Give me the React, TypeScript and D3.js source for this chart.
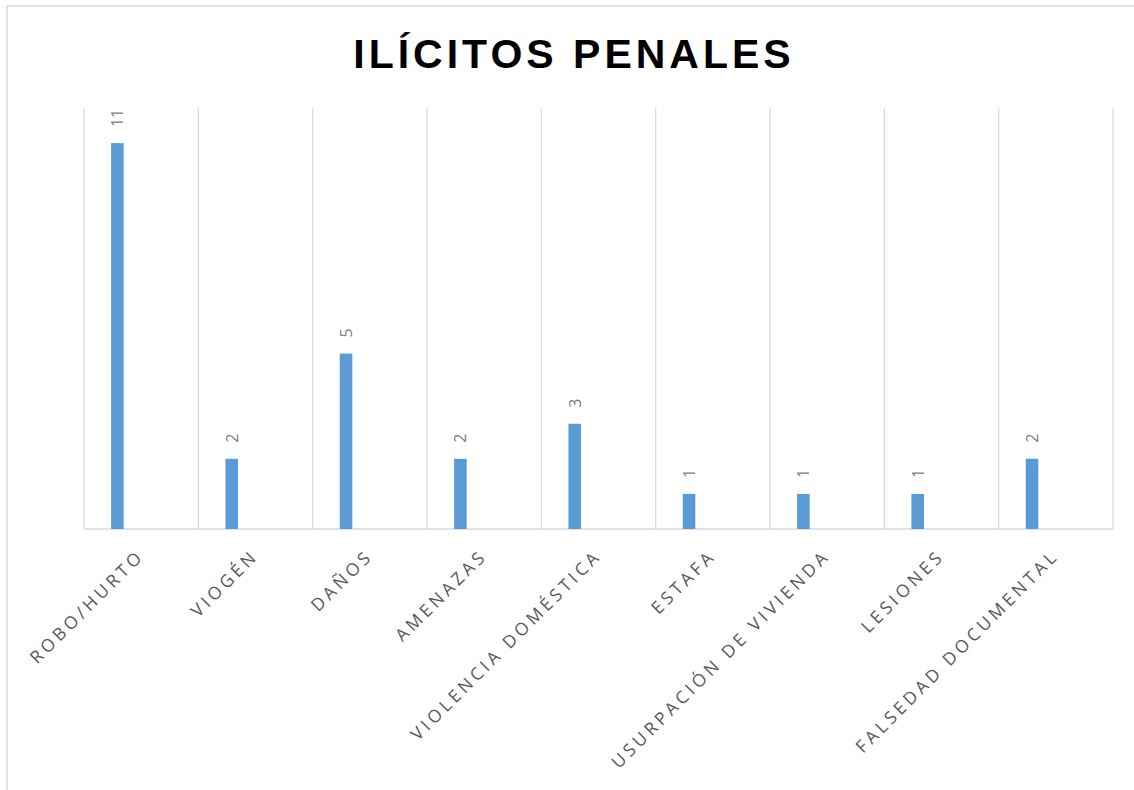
import * as d3 from "d3"

const categories = [
  "ROBO/HURTO",
  "VIOGÉN",
  "DAÑOS",
  "AMENAZAS",
  "VIOLENCIA DOMÉSTICA",
  "ESTAFA",
  "USURPACIÓN DE VIVIENDA",
  "LESIONES",
  "FALSEDAD DOCUMENTAL",
]
const values = [11, 2, 5, 2, 3, 1, 1, 1, 2]
const title = "ILÍCITOS PENALES"

const W = 1134
const H = 790
const margin = { top: 108, right: 21, bottom: 261, left: 84 }
const plotW = W - margin.left - margin.right
const plotH = H - margin.top - margin.bottom

export default function App() {
  const x = d3.scaleBand<string>().domain(categories).range([0, plotW])
  const y = d3.scaleLinear().domain([0, 12]).range([plotH, 0])
  const bw = x.bandwidth()
  const barW = bw * 0.11
  const barOff = bw * 0.237

  return (
    <svg
      width={W}
      height={H}
      style={{ position: "absolute", left: 0, top: 0, background: "#fff" }}
    >
      {/* chart border */}
      <rect x={7} y={6} width={W + 10} height={H + 10} fill="none" stroke="#d9d9d9" strokeWidth={1.5} />
      <text
        x={574}
        y={68}
        textAnchor="middle"
        fontFamily="Liberation Sans, Arial, sans-serif"
        fontWeight="bold"
        fontSize={41}
        letterSpacing={4}
        fill="#000"
      >
        {title}
      </text>
      <g transform={`translate(${margin.left},${margin.top})`}>
        {/* vertical gridlines at category edges */}
        {[...categories.map((c) => x(c) as number), plotW].map((gx, i) => (
          <line key={i} x1={gx} x2={gx} y1={0} y2={plotH} stroke="#d9d9d9" strokeWidth={1.2} />
        ))}
        <line x1={0} x2={plotW} y1={plotH} y2={plotH} stroke="#d9d9d9" strokeWidth={1.5} />
        {categories.map((c, i) => {
          const bx = (x(c) as number) + barOff
          const cx = (x(c) as number) + bw / 2
          return (
            <g key={c}>
              <rect x={bx} y={y(values[i])} width={barW} height={plotH - y(values[i])} fill="#5b9bd5" />
              <text
                transform={`translate(${bx + barW / 2 + 6},${y(values[i]) - 16}) rotate(-90)`}
                fontFamily="Open Sans, sans-serif"
                fontSize={16}
                fill="#808080"
              >
                {values[i]}
              </text>
              <text
                transform={`translate(${cx + 4},${plotH + 28}) rotate(-45)`}
                textAnchor="end"
                fontFamily="Open Sans, sans-serif"
                fontSize={17.5}
                letterSpacing={3.7}
                fill="#595959"
              >
                {c}
              </text>
            </g>
          )
        })}
      </g>
    </svg>
  )
}
